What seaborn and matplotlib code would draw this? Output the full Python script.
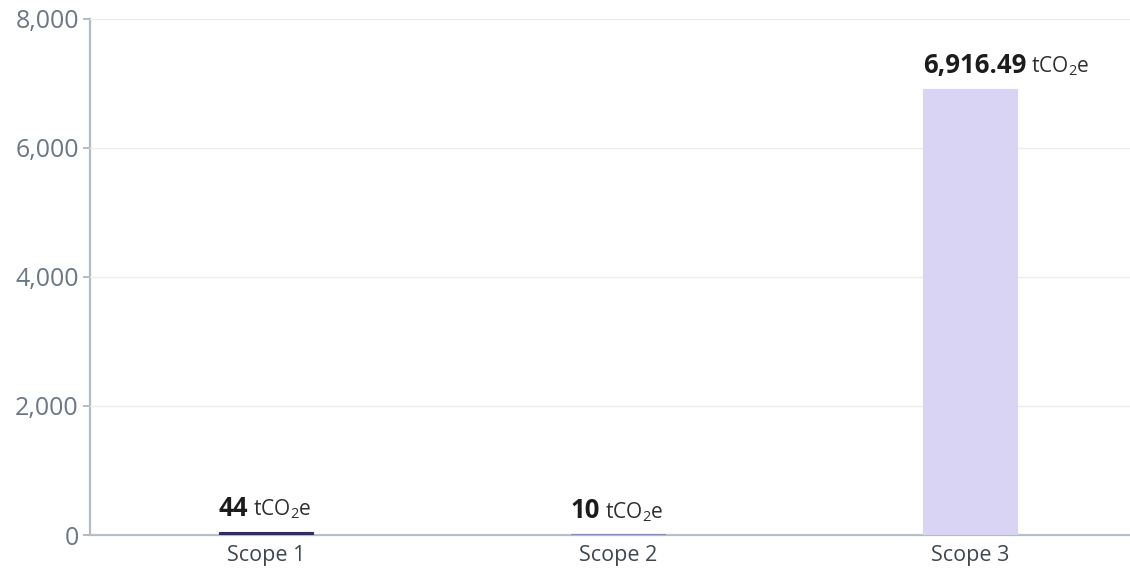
import matplotlib
matplotlib.use("Agg")
import matplotlib.pyplot as plt
import pandas as pd
import seaborn as sns

# data
scopes = ["Scope 1", "Scope 2", "Scope 3"]
emissions = [44, 10, 6916.49]
value_labels = ["44", "10", "6,916.49"]
bar_colors = ["#2e2a6b", "#8985d8", "#d9d4f4"]
y_ticks = [0, 2000, 4000, 6000, 8000]

df = pd.DataFrame({"scope": scopes, "tco2e": emissions})

sns.set_style("white")
plt.rcParams["font.family"] = ["Open Sans", "DejaVu Sans"]
plt.rcParams["mathtext.fontset"] = "custom"
plt.rcParams["mathtext.rm"] = "Open Sans"
plt.rcParams["mathtext.it"] = "Open Sans:italic"
plt.rcParams["mathtext.bf"] = "Open Sans:bold"

fig = plt.figure(figsize=(11.3, 5.7), dpi=100)
ax = fig.add_axes([0.0796, 0.0614, 0.9204, 0.9053])

bar_w = 0.268
sns.barplot(data=df, x="scope", y="tco2e", hue="scope", palette=bar_colors,
            legend=False, width=bar_w, saturation=1, ax=ax)
# tiny bars get a small edge so they stay visible, like the original
for p, c in zip(ax.patches, bar_colors):
    p.set_edgecolor(c)
    p.set_linewidth(0.8)

ax.set_xlim(-0.5, 2.455)
ax.set_ylim(0, 8000)
ax.set_yticks(y_ticks)
ax.set_yticklabels([f"{v:,}" for v in y_ticks])
ax.set_xlabel("")
ax.set_ylabel("")

# grid + spines
ax.yaxis.grid(True, color="#ececec", linewidth=1)
ax.set_axisbelow(True)
for side in ["top", "right"]:
    ax.spines[side].set_visible(False)
for side in ["left", "bottom"]:
    ax.spines[side].set_color("#b3bbc3")
    ax.spines[side].set_linewidth(1.6)
    ax.spines[side].set_zorder(0.5)

ax.tick_params(axis="y", length=5, width=1.4, color="#b3bbc3", pad=3,
               labelsize=18, labelcolor="#6b7785", left=True)
ax.tick_params(axis="x", length=0, pad=7, labelsize=15.5, labelcolor="#3d4750")

# value labels: bold number + unit, left aligned at bar's left edge
for i, (v, lab) in enumerate(zip(emissions, value_labels)):
    t = ax.annotate(lab, xy=(i - bar_w / 2, v), xytext=(0, 11.5),
                    textcoords="offset points", ha="left", va="baseline",
                    fontsize=18.5, fontweight="bold", color="#1c1c1c")
    ax.annotate(r"$\mathrm{tCO_{2}e}$", xy=(1, 0), xycoords=t, xytext=(3.5, 0.5),
                textcoords="offset points", ha="left", va="bottom",
                fontsize=15, color="#2f2f2f")

fig.savefig("out.png", dpi=100)
